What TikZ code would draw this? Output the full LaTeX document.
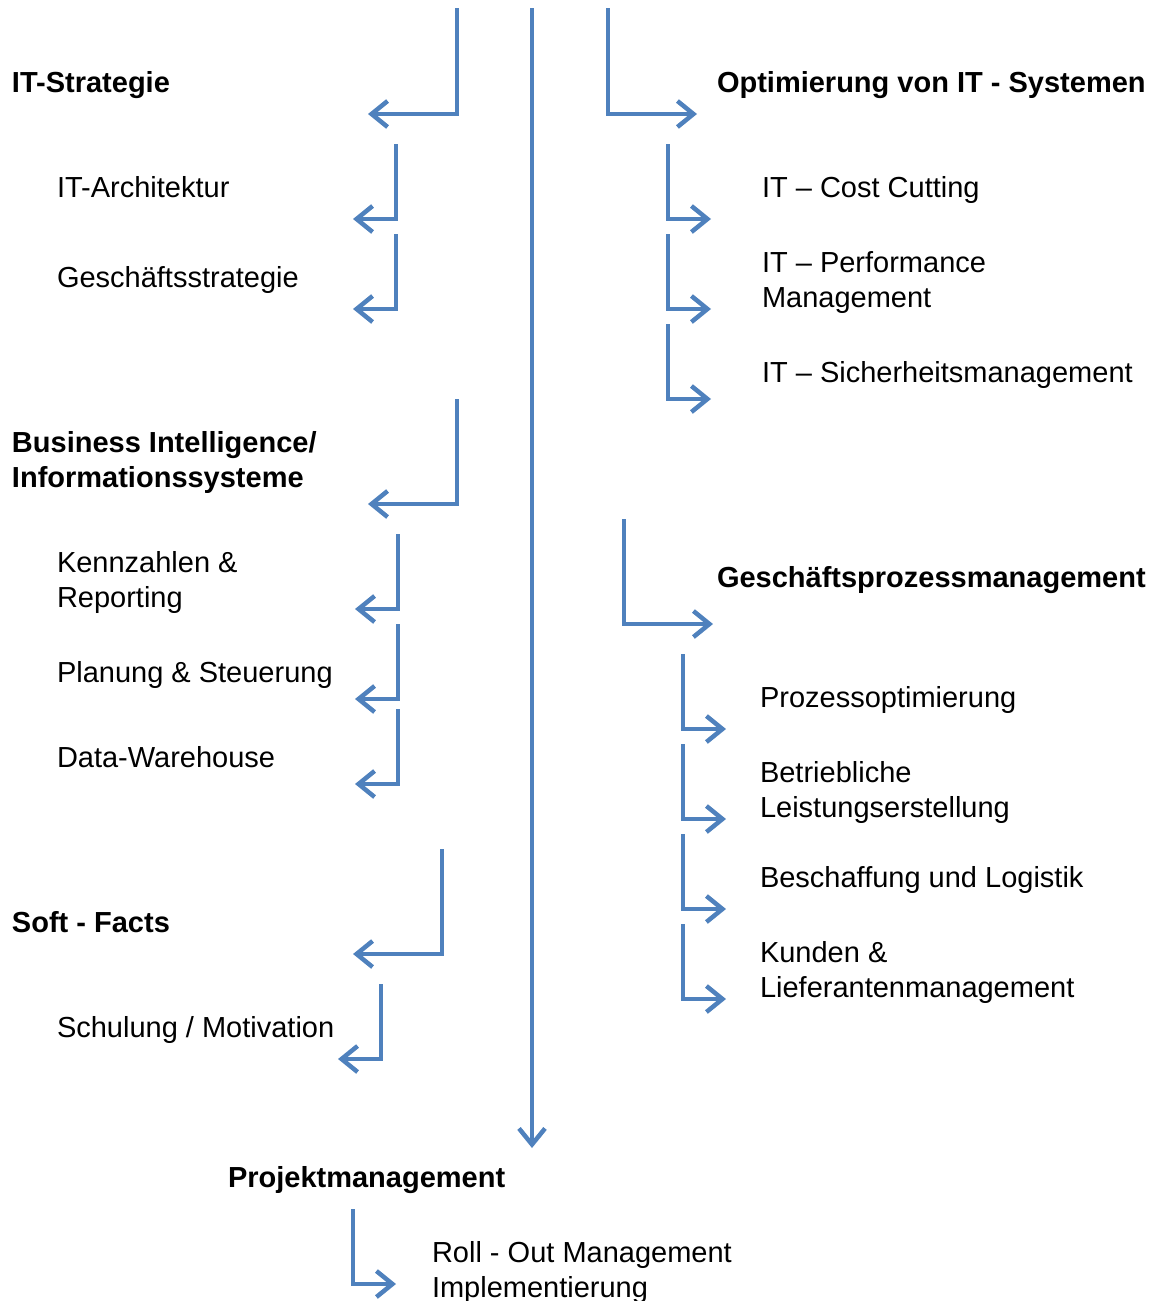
\documentclass[tikz,border=0pt]{standalone}
\usepackage{fontspec}
\setmainfont{Liberation Sans}
\usetikzlibrary{arrows.meta}
\definecolor{arrblue}{RGB}{79,129,189}
\tikzset{
  conn/.style={draw=arrblue, line width=4.5pt, line join=miter,
    -{Straight Barb[length=16pt, width=26pt, line width=4.5pt]}},
  lbl/.style={anchor=base west, inner sep=0pt, outer sep=0pt, align=left,
    font=\fontsize{29}{35}\selectfont},
  hdr/.style={lbl, font=\fontsize{29}{35}\selectfont\bfseries}
}
\begin{document}
\begin{tikzpicture}[x=1pt, y=-1pt]
\useasboundingbox (0,0) rectangle (1167,1301);

% left column texts (multi-line nodes are placed by the baseline of their last line)
\node[hdr] (itstrat) at (12,92) {IT-Strategie};
\node[lbl] (itarch) at (57,197) {IT-Architektur};
\node[lbl] (gstrat) at (57,287) {Geschäftsstrategie};
\node[hdr] (bi) at (12,487) {Business Intelligence/\\Informationssysteme};
\node[lbl] (kenn) at (57,607) {Kennzahlen \&\\Reporting};
\node[lbl] (plan) at (57,682) {Planung \& Steuerung};
\node[lbl] (dwh) at (57,767) {Data-Warehouse};
\node[hdr] (soft) at (12,932) {Soft - Facts};
\node[lbl] (schul) at (57,1037) {Schulung / Motivation};
\node[hdr] (proj) at (228,1187) {Projektmanagement};
\node[lbl] (roll) at (432,1297) {Roll - Out Management\\Implementierung};

% right column texts
\node[hdr] (opt) at (717,92) {Optimierung von IT - Systemen};
\node[lbl] (cost) at (762,197) {IT – Cost Cutting};
\node[lbl] (perf) at (762,307) {IT – Performance\\Management};
\node[lbl] (sich) at (762,382) {IT – Sicherheitsmanagement};
\node[hdr] (gpm) at (717,587) {Geschäftsprozessmanagement};
\node[lbl] (popt) at (760,707) {Prozessoptimierung};
\node[lbl] (betr) at (760,817) {Betriebliche\\Leistungserstellung};
\node[lbl] (besch) at (760,887) {Beschaffung und Logistik};
\node[lbl] (kund) at (760,997) {Kunden \&\\Lieferantenmanagement};

% arrow coordinates
\coordinate (cs) at (532,8);   \coordinate (ce) at (532,1148);
\coordinate (a1s) at (457,8);  \coordinate (a1e) at (368,114);
\coordinate (a2s) at (608,8);  \coordinate (a2e) at (697,114);
\coordinate (l1s) at (396,144); \coordinate (l1e) at (353,219);
\coordinate (l2s) at (396,234); \coordinate (l2e) at (353,309);
\coordinate (r1s) at (668,144); \coordinate (r1e) at (711,219);
\coordinate (r2s) at (668,234); \coordinate (r2e) at (711,309);
\coordinate (r3s) at (668,324); \coordinate (r3e) at (711,399);
\coordinate (b1s) at (457,399); \coordinate (b1e) at (368,504);
\coordinate (l3s) at (398,534); \coordinate (l3e) at (355,609);
\coordinate (l4s) at (398,624); \coordinate (l4e) at (355,699);
\coordinate (l5s) at (398,709); \coordinate (l5e) at (355,784);
\coordinate (g1s) at (624,519); \coordinate (g1e) at (713,624);
\coordinate (r4s) at (683,654); \coordinate (r4e) at (726,729);
\coordinate (r5s) at (683,744); \coordinate (r5e) at (726,819);
\coordinate (r6s) at (683,834); \coordinate (r6e) at (726,909);
\coordinate (r7s) at (683,924); \coordinate (r7e) at (726,999);
\coordinate (s1s) at (442,849); \coordinate (s1e) at (353,954);
\coordinate (s2s) at (381,984); \coordinate (s2e) at (338,1059);
\coordinate (p1s) at (353,1209); \coordinate (p1e) at (396,1284);

% arrows
\draw[conn] (cs) -- (ce);
\foreach \a in {a1,a2,l1,l2,r1,r2,r3,b1,l3,l4,l5,g1,r4,r5,r6,r7,s1,s2,p1}
  \draw[conn] (\a s) |- (\a e);
\end{tikzpicture}
\end{document}
